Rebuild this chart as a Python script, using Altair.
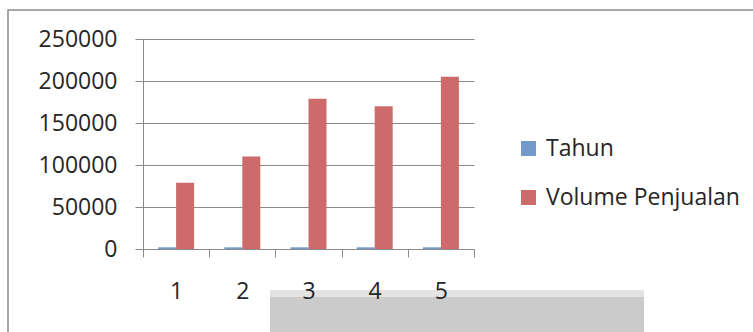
import altair as alt
import pandas as pd

# ---- data ----
categories = [1, 2, 3, 4, 5]
tahun = [2008, 2009, 2010, 2011, 2012]
volume = [79000, 110000, 179000, 170000, 205000]
series_names = ["Tahun", "Volume Penjualan"]
series_colors = ["#7499CB", "#CD6B6B"]
y_ticks = [0, 50000, 100000, 150000, 200000, 250000]

rows = []
for c, t, v in zip(categories, tahun, volume):
    rows.append({"cat": c, "series": series_names[0], "value": t})
    rows.append({"cat": c, "series": series_names[1], "value": v})
df = pd.DataFrame(rows)

boundaries = [c - 0.5 for c in categories] + [categories[-1] + 0.5]
x_axis_values = sorted(boundaries + categories)

FONT = "Open Sans"
TXT = "#262626"
GRID = "#8a8a8a"
W, H = 331, 210

bars = alt.Chart(df).transform_calculate(
    x0="datum.cat + (datum.series == 'Tahun' ? -0.272 : 0)",
    x1="datum.cat + (datum.series == 'Tahun' ? 0 : 0.272)",
).mark_bar().encode(
    x=alt.X(
        "x0:Q",
        scale=alt.Scale(domain=[boundaries[0], boundaries[-1]], nice=False, zero=False),
        axis=alt.Axis(
            values=x_axis_values,
            title=None,
            grid=False,
            domainColor=GRID,
            domainWidth=1,
            tickColor=GRID,
            tickSize=8,
            tickOpacity={"condition": {"test": "datum.value % 1 === 0", "value": 0}, "value": 1},
            labelExpr="datum.value % 1 === 0 ? format(datum.value, 'd') : ''",
            labelFont=FONT,
            labelFontSize=23,
            labelColor=TXT,
            labelPadding=23,
            labelFlush=False,
            labelOverlap=False,
            zindex=1,
        ),
    ),
    x2="x1:Q",
    y=alt.Y(
        "value:Q",
        scale=alt.Scale(domain=[0, 250000], nice=False),
        axis=alt.Axis(
            values=y_ticks,
            title=None,
            format="d",
            grid=True,
            gridColor=GRID,
            gridWidth=1,
            domainColor=GRID,
            tickColor=GRID,
            tickSize=8,
            labelFont=FONT,
            labelFontSize=23,
            labelColor=TXT,
            labelPadding=18,
        ),
    ),
    y2=alt.datum(0),
    color=alt.Color(
        "series:N",
        scale=alt.Scale(domain=series_names, range=series_colors),
        legend=alt.Legend(
            title=None,
            orient="none",
            legendX=374,
            legendY=98,
            padding=0,
            symbolType="square",
            symbolSize=225,
            symbolStrokeWidth=0,
            labelFont=FONT,
            labelFontSize=23,
            labelColor=TXT,
            labelOffset=6,
            labelLimit=0,
            rowPadding=25,
        ),
    ),
)

# chart frame (decoration of the original Excel chart area)
frame = alt.Chart(alt.Data(values=[{}])).mark_rect(
    fill=None, stroke="#8c8c8c", strokeWidth=1.5
).encode(
    x=alt.value(-135), x2=alt.value(700), y=alt.value(-29), y2=alt.value(400)
)

# gray box at the bottom of the scan
box_light = alt.Chart(alt.Data(values=[{}])).mark_rect(fill="#e3e3e3").encode(
    x=alt.value(127), x2=alt.value(501), y=alt.value(251), y2=alt.value(300)
)
box_dark = alt.Chart(alt.Data(values=[{}])).mark_rect(fill="#cbcbcb").encode(
    x=alt.value(127), x2=alt.value(501), y=alt.value(258), y2=alt.value(300)
)

chart = alt.layer(frame, box_light, box_dark, bars).properties(
    width=W,
    height=H,
    autosize=alt.AutoSizeParams(type="none"),
    padding={"left": 143, "top": 39, "right": 279, "bottom": 83},
    background="white",
).configure_view(stroke=None)

chart.save("out.html", embed_options={"renderer": "svg", "actions": False})
